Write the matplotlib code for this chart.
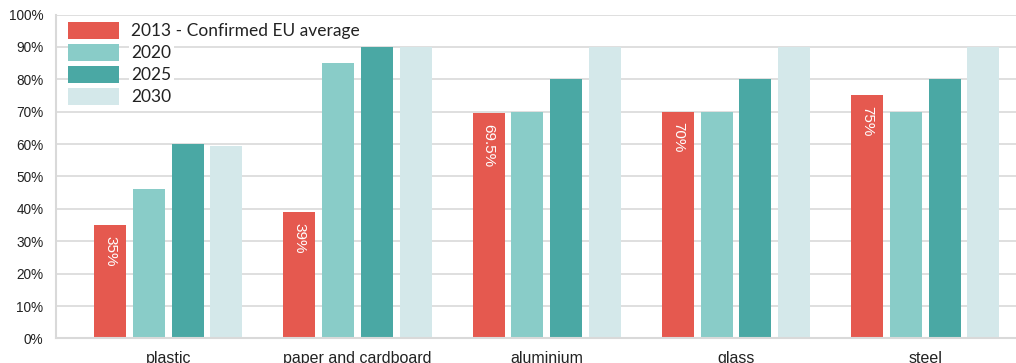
import numpy as np
import matplotlib
matplotlib.use("Agg")
import matplotlib.pyplot as plt

# Taux de recyclage des emballages par matériau
categories = ['plastic', 'paper and cardboard', 'aluminium', 'glass', 'steel']
series_labels = ['2013 - Confirmed EU average', '2020', '2025', '2030']
v2013 = [35, 39, 69.5, 70, 75]
v2020 = [46, 85, 70, 70, 70]
v2025 = [60, 90, 80, 80, 80]
v2030 = [59.5, 90, 90, 90, 90]
labels_2013 = ['35%', '39%', '69.5%', '70%', '75%']
y_ticks = [0, 10, 20, 30, 40, 50, 60, 70, 80, 90, 100]

couleurs = ['#E5594F', '#89CCC8', '#4AA8A4', '#D4E8EA']
gris = '#D9D9D9'


def tracer_barres():
    fig = plt.figure(figsize=(10.16, 3.63), dpi=100)
    ax = fig.add_axes([0.0551, 0.0678, 0.9449, 0.8922])

    series = [v2013, v2020, v2025, v2030]
    x = np.arange(len(categories))
    largeur = 0.169
    pas = 0.2045

    bars_2013 = None
    for k, (vals, lab, col) in enumerate(zip(series, series_labels, couleurs)):
        bars = ax.bar(x + (k - 1.5) * pas, vals, width=largeur, color=col,
                      label=lab, zorder=2, linewidth=0)
        if k == 0:
            bars_2013 = bars

    # Étiquettes verticales dans les barres 2013
    for rect, txt in zip(bars_2013, labels_2013):
        ax.text(rect.get_x() + rect.get_width() / 2, rect.get_height() - 3.3,
                txt, rotation=-90, ha='center', va='top', color='white',
                fontsize=11, family='Liberation Sans', zorder=3)

    ax.set_xlim(-0.593, 4.479)
    ax.set_ylim(0, 100)
    ax.set_yticks(y_ticks)
    ax.set_yticklabels([f'{t}%' for t in y_ticks])
    ax.set_xticks(x)
    ax.set_xticklabels(categories)

    ax.yaxis.grid(True, color=gris, linewidth=1.2, zorder=0)
    ax.set_axisbelow(True)
    ax.tick_params(axis='both', length=0, colors='#222222')
    ax.tick_params(axis='y', pad=9, labelsize=9.8)
    ax.tick_params(axis='x', pad=9, labelsize=11.5)
    for lab in ax.get_xticklabels() + ax.get_yticklabels():
        lab.set_family('Liberation Sans')

    for side in ['top', 'right']:
        ax.spines[side].set_visible(False)
    for side in ['left', 'bottom']:
        ax.spines[side].set_color(gris)
        ax.spines[side].set_linewidth(1.5)

    leg = ax.legend(loc='upper left', bbox_to_anchor=(0.0125, 0.977), frameon=False,
                    handlelength=2.95, handleheight=1.1, handletextpad=0.7,
                    labelspacing=0.28, borderaxespad=0.0, borderpad=0.0,
                    prop={'family': 'Lato', 'size': 12.5})
    leg.set_zorder(5)
    for t in leg.get_texts():
        t.set_color('#222222')
        t.set_bbox(dict(facecolor='white', edgecolor='none', pad=2))

    fig.savefig('out.png', dpi=100)


if __name__ == "__main__":
    tracer_barres()
